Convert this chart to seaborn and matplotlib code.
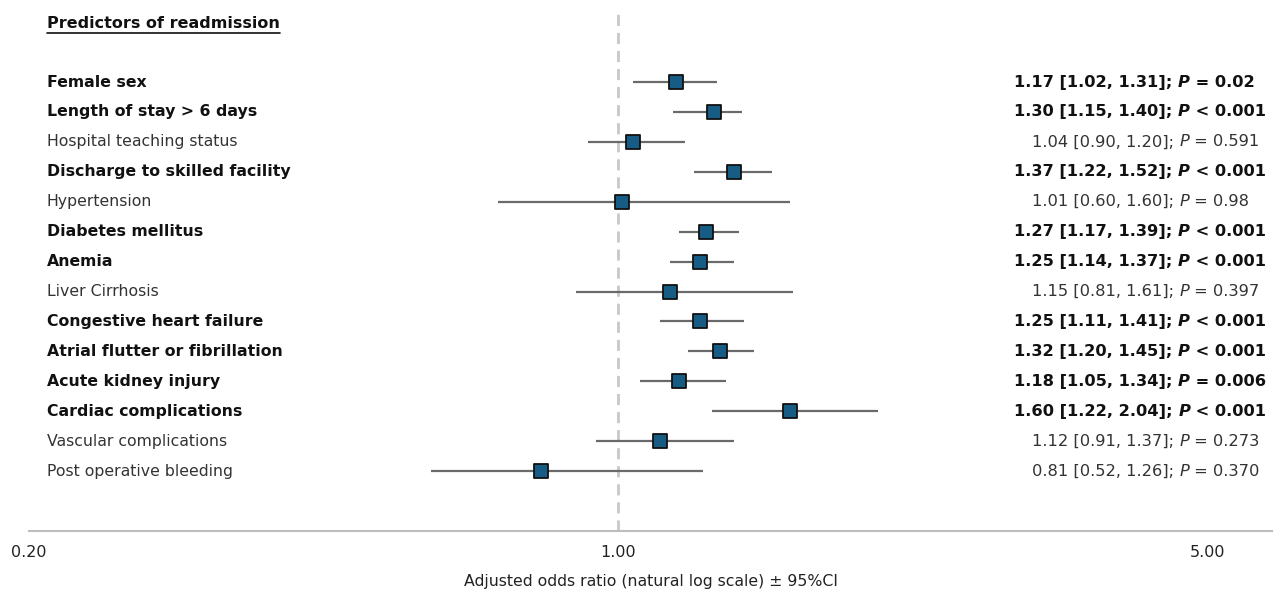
import numpy as np
import pandas as pd
import matplotlib
matplotlib.use("Agg")
import matplotlib.pyplot as plt
import matplotlib.transforms as mtransforms
import seaborn as sns

# predictors, top to bottom
predictors = ["Female sex", "Length of stay > 6 days", "Hospital teaching status",
              "Discharge to skilled facility", "Hypertension", "Diabetes mellitus",
              "Anemia", "Liver Cirrhosis", "Congestive heart failure",
              "Atrial flutter or fibrillation", "Acute kidney injury",
              "Cardiac complications", "Vascular complications",
              "Post operative bleeding"]
significant = [True, True, False, True, False, True, True, False, True, True,
               True, True, False, False]
# odds ratio and CI as drawn on the chart
odds = [1.17, 1.30, 1.04, 1.37, 1.01, 1.27, 1.25, 1.15, 1.25, 1.32, 1.18, 1.60, 1.12, 0.81]
ci_low = [1.04, 1.16, 0.92, 1.23, 0.72, 1.18, 1.15, 0.89, 1.12, 1.21, 1.06, 1.29, 0.94, 0.60]
ci_high = [1.31, 1.40, 1.20, 1.52, 1.60, 1.39, 1.37, 1.61, 1.41, 1.45, 1.34, 2.03, 1.37, 1.26]
# right-hand labels: estimate + CI, then the P part
est_text = ["1.17 [1.02, 1.31]; ", "1.30 [1.15, 1.40]; ", "1.04 [0.90, 1.20]; ",
            "1.37 [1.22, 1.52]; ", "1.01 [0.60, 1.60]; ", "1.27 [1.17, 1.39]; ",
            "1.25 [1.14, 1.37]; ", "1.15 [0.81, 1.61]; ", "1.25 [1.11, 1.41]; ",
            "1.32 [1.20, 1.45]; ", "1.18 [1.05, 1.34]; ", "1.60 [1.22, 2.04]; ",
            "1.12 [0.91, 1.37]; ", "0.81 [0.52, 1.26]; "]
p_text = ["= 0.02", "< 0.001", "= 0.591", "< 0.001", "= 0.98", "< 0.001", "< 0.001",
          "= 0.397", "< 0.001", "< 0.001", "= 0.006", "< 0.001", "= 0.273", "= 0.370"]
tick_vals = [0.2, 1.0, 5.0]
tick_labels = ["0.20", "1.00", "5.00"]

df = pd.DataFrame({"predictor": predictors, "odds": odds, "lo": ci_low,
                   "hi": ci_high, "row": np.arange(len(predictors))})

sns.set_style("white")
plt.rcParams["font.family"] = ["DejaVu Sans"]

W, H = 1276, 596
fig = plt.figure(figsize=(W / 100, H / 100), dpi=100)
ax = fig.add_axes([29 / W, 1 - 531 / H, (1272 - 29) / W, 531 / H])

ax.set_xscale("log")
ax.set_xlim(0.2, 5.96)
ax.set_ylim(15.0, -2.74)

ax.axvline(1.0, ymin=0, ymax=(15.0 + 2.41) / (15.0 + 2.74), color="#c8c8c8",
           lw=2, ls=(0, (4, 2.5)), zorder=1)
ax.hlines(df["row"], df["lo"], df["hi"], color="#6a6a6a", lw=1.6, zorder=2)
sns.scatterplot(data=df, x="odds", y="row", marker="s", s=95, color="#165c84",
                edgecolor="#111111", linewidth=1.3, zorder=3, ax=ax, legend=False)

for sp in ["left", "top", "right"]:
    ax.spines[sp].set_visible(False)
ax.spines["bottom"].set_color("#bdbdbd")
ax.spines["bottom"].set_linewidth(1.5)
ax.set_yticks([])
ax.set_xticks(tick_vals)
ax.set_xticklabels(tick_labels)
ax.xaxis.set_minor_locator(matplotlib.ticker.NullLocator())
ax.tick_params(axis="x", direction="out", length=7, width=1.2, color="#bdbdbd",
               labelsize=11.5, labelcolor="#222222", pad=3)
ax.set_xlabel("Adjusted odds ratio (natural log scale) \u00b1 95%CI", fontsize=11.3,
              color="#222222", labelpad=10)
ax.set_ylabel("")

trans = mtransforms.blended_transform_factory(fig.transFigure, ax.transData)
fs_left = 11.35
fs_right = 11.7
for i, name in enumerate(predictors):
    bold = significant[i]
    wt = "bold" if bold else "normal"
    col = "#111111" if bold else "#333333"
    ax.text(47 / W, i, name, transform=trans, ha="left", va="center",
            fontsize=fs_left, fontweight=wt, color=col)
    x0 = 1014 / W if bold else 1032 / W
    t1 = ax.text(x0, i, est_text[i], transform=trans, ha="left", va="center",
                 fontsize=fs_right, fontweight=wt, color=col)
    t2 = ax.annotate("P", xy=(1, 0), xycoords=t1, ha="left", va="bottom",
                     fontsize=fs_right, fontstyle="italic", fontweight=wt, color=col)
    ax.annotate(" " + p_text[i], xy=(1, 0), xycoords=t2, ha="left", va="bottom",
                fontsize=fs_right, fontweight=wt, color=col)

title = fig.text(47 / W, 1 - 24 / H, "Predictors of readmission", ha="left",
                 va="center", fontsize=11.5, fontweight="bold", color="#111111")
fig.canvas.draw()
bb = title.get_window_extent().transformed(fig.transFigure.inverted())
fig.add_artist(plt.Line2D([bb.x0, bb.x1], [1 - 33 / H, 1 - 33 / H],
                          transform=fig.transFigure, color="#111111", lw=1.2))

fig.savefig("out.png", dpi=100)
